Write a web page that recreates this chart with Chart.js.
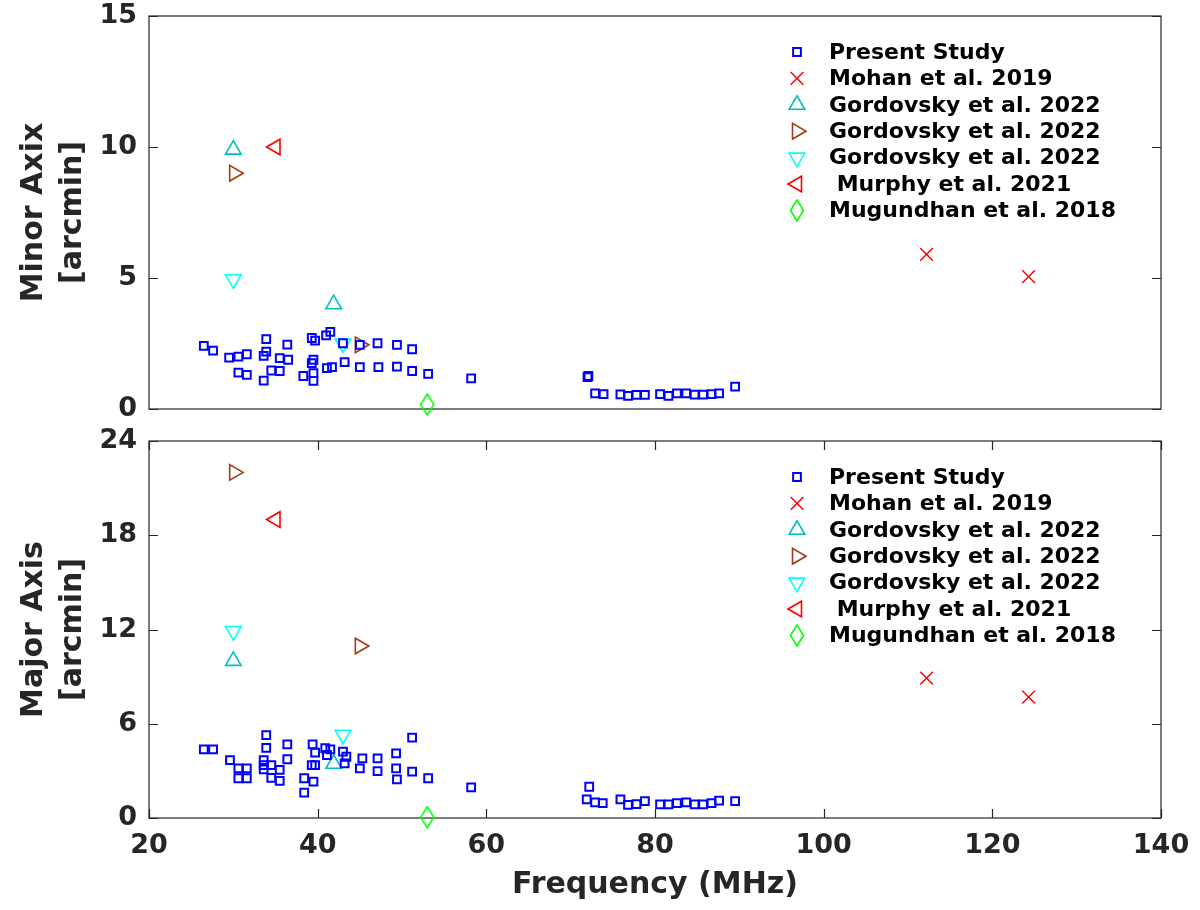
<!DOCTYPE html>
<html>
<head>
<meta charset="utf-8">
<script src="https://cdn.jsdelivr.net/npm/chart.js"></script>
<style>
  body { margin: 0; background: #fff; }
  #wrap { position: relative; width: 1200px; height: 910px; }
  #c1 { position: absolute; left: 0; top: 0; }
  #c2 { position: absolute; left: 0; top: 425px; }
</style>
</head>
<body>
<div id="wrap">
  <canvas id="c1" width="1200" height="425"></canvas>
  <canvas id="c2" width="1200" height="485"></canvas>
</div>
<script>
// ---- data ----
const freqTicks = [20, 40, 60, 80, 100, 120, 140];
const minorTicks = [0, 5, 10, 15];
const majorTicks = [0, 6, 12, 18, 24];

const seriesLabels = [
  'Present Study',
  'Mohan et al. 2019',
  'Gordovsky et al. 2022',
  'Gordovsky et al. 2022',
  'Gordovsky et al. 2022',
  ' Murphy et al. 2021',
  'Mugundhan et al. 2018'
];

// Present study - minor axis panel
const presentFreqMinor = [26.5, 27.6, 29.5, 30.6, 31.6, 33.9, 33.9, 33.6, 36.4, 35.5, 36.5, 30.6, 31.6, 33.6, 34.5, 35.5,
  39.3, 39.7, 41.0, 41.5, 39.5, 39.3, 38.3, 39.5, 39.5, 41.1, 41.7, 43.0, 43.2, 45.0, 45.0, 47.1, 47.2, 49.4, 49.4,
  51.2, 51.2, 53.1, 58.2, 72.1, 72.0, 72.9, 73.9, 75.9, 76.8, 77.8, 78.8, 80.6, 81.6, 82.6, 83.7, 84.7, 85.7, 86.7, 87.6, 89.5];
const presentMinor = [2.41, 2.23, 1.96, 2.0, 2.09, 2.67, 2.19, 2.03, 2.46, 1.94, 1.88, 1.39, 1.30, 1.08, 1.47, 1.45,
  2.71, 2.61, 2.81, 2.94, 1.88, 1.75, 1.26, 1.37, 1.07, 1.56, 1.60, 2.51, 1.79, 2.45, 1.60, 2.51, 1.60, 2.45, 1.62,
  2.28, 1.45, 1.34, 1.17, 1.26, 1.22, 0.60, 0.57, 0.56, 0.50, 0.54, 0.54, 0.57, 0.50, 0.60, 0.60, 0.55, 0.55, 0.57, 0.60, 0.85];

// Present study - major axis panel
const presentFreqMajor = [26.5, 27.6, 29.6, 30.6, 31.6, 30.6, 31.6, 33.9, 33.9, 33.6, 33.6, 33.6, 34.5, 34.5, 35.5, 35.5,
  36.4, 36.4, 39.4, 39.7, 39.3, 39.7, 38.4, 39.5, 38.4, 40.9, 41.5, 41.1, 43.0, 43.4, 43.2, 45.3, 45.0, 47.1, 47.1,
  49.3, 49.3, 49.4, 51.2, 51.2, 53.1, 58.2, 72.2, 71.9, 72.9, 73.8, 75.9, 76.8, 77.8, 78.8, 80.6, 81.6, 82.6, 83.7,
  84.7, 85.7, 86.7, 87.6, 89.5];
const presentMajor = [4.37, 4.37, 3.69, 3.16, 3.16, 2.53, 2.53, 5.28, 4.47, 3.69, 3.37, 3.1, 3.37, 2.56, 3.06, 2.36,
  4.69, 3.74, 4.69, 4.16, 3.37, 3.37, 2.53, 2.31, 1.61, 4.44, 4.37, 4.01, 4.22, 3.90, 3.48, 3.80, 3.16, 3.80, 2.99,
  4.12, 3.16, 2.46, 5.11, 2.95, 2.53, 1.95, 1.99, 1.19, 1.0, 0.94, 1.19, 0.83, 0.89, 1.08, 0.87, 0.87, 0.94, 1.0,
  0.87, 0.87, 0.94, 1.10, 1.08];

const mohanFreq = [112.2, 124.3];
const mohanMinor = [5.9, 5.05];
const mohanMajor = [8.9, 7.7];

const gordUpFreq = [30.0, 41.9];
const gordUpMinor = [9.9, 4.0];
const gordUpMajor = [10.0, 3.45];

const gordRightFreq = [30.1, 45.0];
const gordRightMinor = [9.0, 2.45];
const gordRightMajor = [22.0, 10.95];

const gordDownFreq = [30.0, 43.0];
const gordDownMinor = [4.95, 2.5];
const gordDownMajor = [11.9, 5.3];

const murphyFreq = [35.0];
const murphyMinor = [10.0];
const murphyMajor = [19.0];

const mugundhanFreq = [53.0];
const mugundhanMinor = [0.17];
const mugundhanMajor = [0.05];

// ---- styling ----
const axisColor = '#262626';
const tickFont = { family: 'DejaVu Sans', size: 27, weight: 'bold' };
const yTitleFont = { family: 'DejaVu Sans', size: 30, weight: 'bold', lineHeight: 1.3 };
const xTitleFont = { family: 'DejaVu Sans', size: 30, weight: 'bold', lineHeight: 1.2 };

// tall diamond marker (MATLAB style)
function makeDiamond() {
  const c = document.createElement('canvas');
  c.width = 16; c.height = 23;
  const g = c.getContext('2d');
  g.strokeStyle = '#00ff00';
  g.lineWidth = 1.6;
  g.beginPath();
  g.moveTo(8, 1); g.lineTo(14.5, 11.5); g.lineTo(8, 22); g.lineTo(1.5, 11.5);
  g.closePath();
  g.stroke();
  return c;
}
const diamond = makeDiamond();

function pts(xs, ys) {
  return xs.map((x, i) => ({ x: x, y: ys[i] }));
}

function buildDatasets(minor) {
  const none = 'rgba(0,0,0,0)';
  return [
    { label: seriesLabels[0], data: minor ? pts(presentFreqMinor, presentMinor) : pts(presentFreqMajor, presentMajor),
      pointStyle: 'rect', pointRadius: 5.5, borderColor: '#0000ff', backgroundColor: none, borderWidth: 2 },
    { label: seriesLabels[1], data: pts(mohanFreq, minor ? mohanMinor : mohanMajor),
      pointStyle: 'crossRot', pointRadius: 9, borderColor: '#ff0000', backgroundColor: none, borderWidth: 1.5 },
    { label: seriesLabels[2], data: pts(gordUpFreq, minor ? gordUpMinor : gordUpMajor),
      pointStyle: 'triangle', pointRotation: 0, pointRadius: 9, borderColor: '#00bfbf', backgroundColor: none, borderWidth: 1.6 },
    { label: seriesLabels[3], data: pts(gordRightFreq, minor ? gordRightMinor : gordRightMajor),
      pointStyle: 'triangle', pointRotation: 90, pointRadius: 9, borderColor: '#a23c14', backgroundColor: none, borderWidth: 1.6 },
    { label: seriesLabels[4], data: pts(gordDownFreq, minor ? gordDownMinor : gordDownMajor),
      pointStyle: 'triangle', pointRotation: 180, pointRadius: 9, borderColor: '#00ffff', backgroundColor: none, borderWidth: 1.6 },
    { label: seriesLabels[5], data: pts(murphyFreq, minor ? murphyMinor : murphyMajor),
      pointStyle: 'triangle', pointRotation: 270, pointRadius: 9, borderColor: '#ff0000', backgroundColor: none, borderWidth: 1.6 },
    { label: seriesLabels[6], data: pts(mugundhanFreq, minor ? mugundhanMinor : mugundhanMajor),
      pointStyle: diamond, pointRadius: 9, borderColor: '#00ff00', backgroundColor: none, borderWidth: 1.6 }
  ].map(d => Object.assign(d, { clip: false, pointHoverRadius: d.pointRadius }));
}

// frame, inward ticks and in-axes legend
const framePlugin = {
  id: 'frame',
  beforeDatasetsDraw(chart) {
    const { ctx, chartArea: a, scales } = chart;
    const opts = chart.options.plugins.frame;
    ctx.save();
    ctx.strokeStyle = axisColor;
    ctx.lineWidth = 1.2;
    ctx.strokeRect(a.left, a.top, a.right - a.left, a.bottom - a.top);
    ctx.beginPath();
    if (opts.xTicks) {
      freqTicks.forEach(v => {
        const px = Math.round(scales.x.getPixelForValue(v)) + 0.5;
        ctx.moveTo(px, a.bottom); ctx.lineTo(px, a.bottom - 9);
        ctx.moveTo(px, a.top); ctx.lineTo(px, a.top + 9);
      });
    }
    opts.yTicks.forEach(v => {
      const py = Math.round(scales.y.getPixelForValue(v)) + 0.5;
      ctx.moveTo(a.left, py); ctx.lineTo(a.left + 9, py);
      ctx.moveTo(a.right, py); ctx.lineTo(a.right - 9, py);
    });
    ctx.stroke();
    ctx.restore();
  },
  afterDraw(chart) {
    const { ctx, chartArea: a } = chart;
    // legend
    const mx = 797, tx = 829;
    ctx.save();
    ctx.font = 'bold 22px "DejaVu Sans"';
    ctx.textBaseline = 'middle';
    ctx.textAlign = 'left';
    chart.data.datasets.forEach((ds, i) => {
      const y = a.top + 36 + 26.4 * i;
      ctx.strokeStyle = ds.borderColor;
      ctx.fillStyle = 'rgba(0,0,0,0)';
      ctx.lineWidth = ds.borderWidth;
      Chart.helpers.drawPoint(ctx, {
        pointStyle: ds.pointStyle, rotation: ds.pointRotation || 0,
        radius: ds.pointRadius, borderWidth: ds.borderWidth
      }, mx, y);
      ctx.fillStyle = '#000';
      ctx.fillText(ds.label, tx, y + 1);
    });
    ctx.restore();
  }
};

function makeChart(id, minor) {
  const yTicks = minor ? minorTicks : majorTicks;
  return new Chart(document.getElementById(id), {
    type: 'scatter',
    data: { datasets: buildDatasets(minor) },
    plugins: [framePlugin],
    options: {
      responsive: false,
      animation: false,
      events: [],
      layout: { padding: { left: 0, right: 39, top: 16, bottom: 0 } },
      plugins: {
        legend: { display: false },
        tooltip: { enabled: false },
        frame: { yTicks: yTicks, xTicks: !minor }
      },
      scales: {
        x: {
          type: 'linear', min: 20, max: 140,
          afterBuildTicks: s => { s.ticks = freqTicks.map(v => ({ value: v })); },
          afterFit: s => { s.height = minor ? 16 : 92; s.paddingLeft = 0; s.paddingRight = 0; },
          grid: { display: false, drawTicks: false },
          border: { display: false },
          ticks: { display: !minor, font: tickFont, color: axisColor, padding: 12, maxRotation: 0 },
          title: { display: !minor, text: 'Frequency (MHz)', font: xTitleFont, color: axisColor, padding: { top: 0, bottom: 7 } }
        },
        y: {
          type: 'linear', min: 0, max: yTicks[yTicks.length - 1],
          afterBuildTicks: s => { s.ticks = yTicks.map(v => ({ value: v })); },
          afterFit: s => { s.width = 149; s.paddingTop = 0; s.paddingBottom = 0; },
          grid: { display: false, drawTicks: false },
          border: { display: false },
          ticks: { font: tickFont, color: axisColor, padding: 12 },
          title: {
            display: true,
            text: minor ? ['Minor Axix', '[arcmin]'] : ['Major Axis', '[arcmin]'],
            font: yTitleFont, color: axisColor, padding: { top: 15, bottom: 0 }
          }
        }
      }
    }
  });
}

makeChart('c1', true);
makeChart('c2', false);
</script>
</body>
</html>
